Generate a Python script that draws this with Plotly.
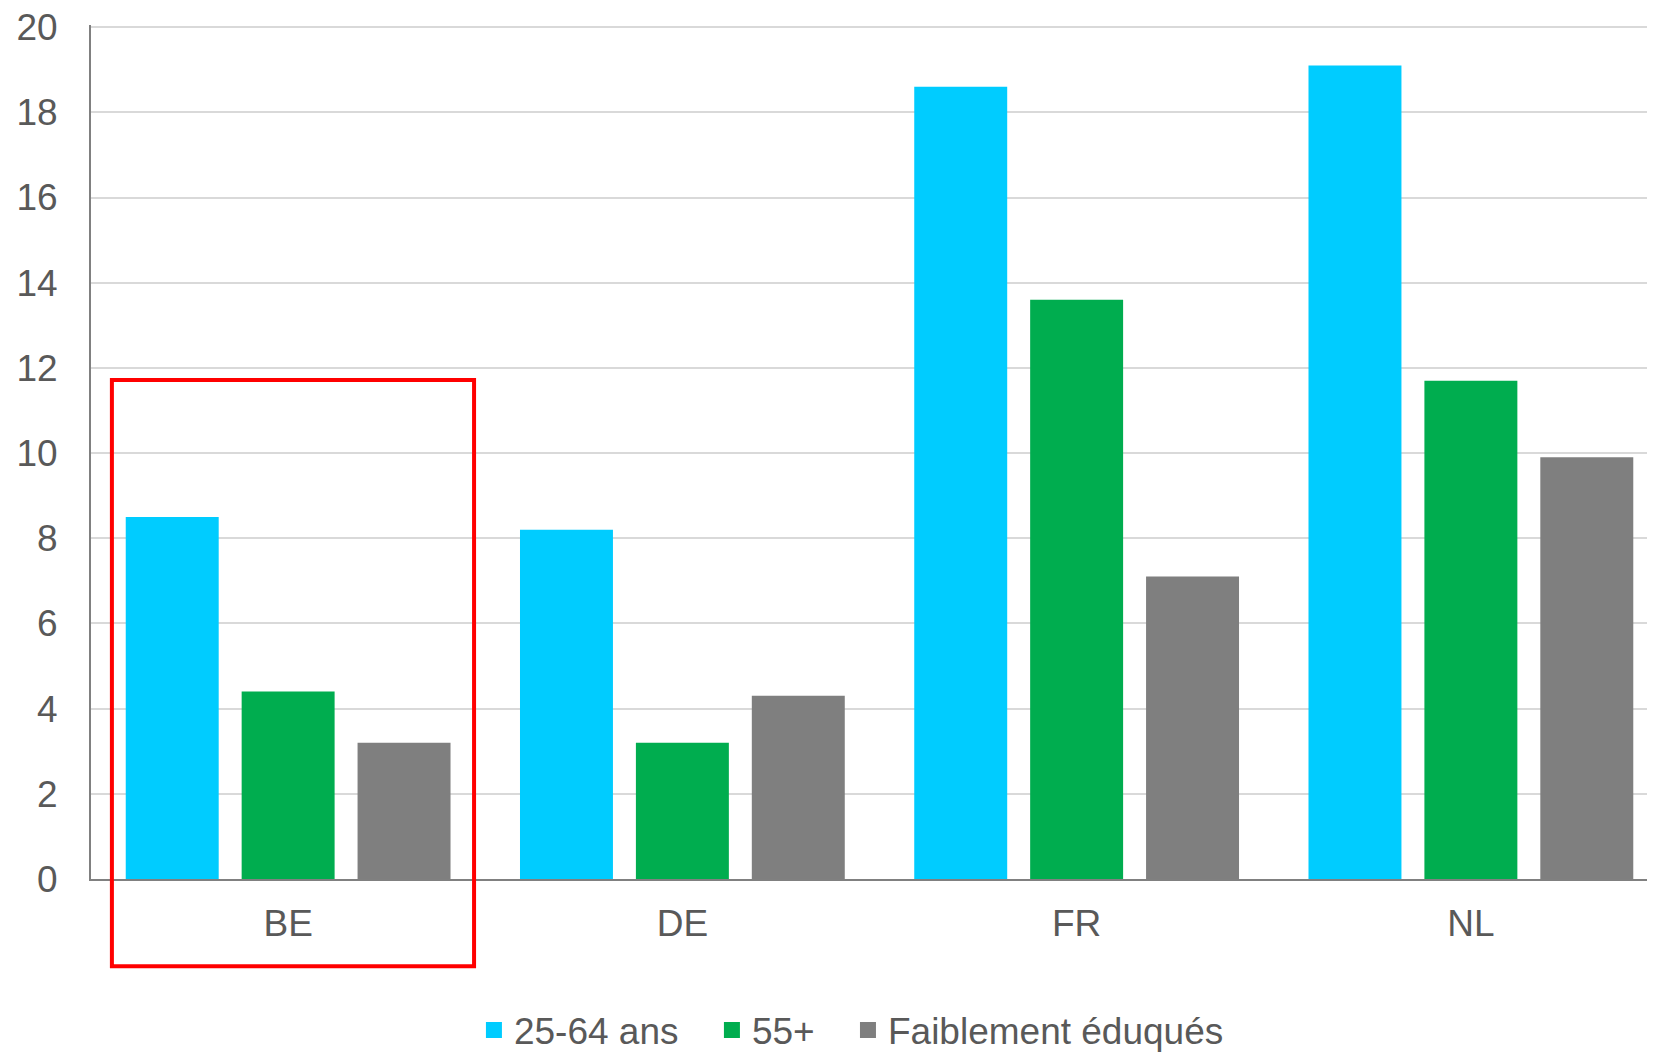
import plotly.graph_objects as go

categories = ["BE", "DE", "FR", "NL"]
series_names = ["25-64 ans", "55+", "Faiblement éduqués"]
values_25_64 = [8.5, 8.2, 18.6, 19.1]
values_55 = [4.4, 3.2, 13.6, 11.7]
values_low_edu = [3.2, 4.3, 7.1, 9.9]
y_ticks = [0, 2, 4, 6, 8, 10, 12, 14, 16, 18, 20]
colors = ["#00CCFF", "#00AD4F", "#7F7F7F"]

FONT = "Liberation Sans, Arial, sans-serif"
TXT = "#595959"

fig = go.Figure()
for name, vals, col in zip(series_names, [values_25_64, values_55, values_low_edu], colors):
    fig.add_trace(go.Bar(x=categories, y=vals, name=name, showlegend=False,
                         marker=dict(color=col, line=dict(width=0))))

# one legend per entry so that each can be placed like the original
legend_ids = ["legend", "legend2", "legend3"]
legend_x = [0.2829, 0.4274, 0.5100]
for name, col, lid in zip(series_names, colors, legend_ids):
    fig.add_trace(go.Scatter(x=[None], y=[None], mode="markers", name=name, legend=lid,
                             marker=dict(symbol="square", size=16, color=col)))

legend_common = dict(orientation="h", xref="container", yref="container", xanchor="left",
                     y=0.0206, yanchor="middle", font=dict(family=FONT, size=37, color=TXT),
                     itemwidth=30, bgcolor="rgba(0,0,0,0)", borderwidth=0)

# page has an 8px body margin; compensate so the figure fills the window
W, H = 1647, 1044
fig.update_layout(
    width=W, height=H,
    margin=dict(l=83, r=0, t=17, b=173),
    paper_bgcolor="white", plot_bgcolor="white",
    barmode="group", bargap=0.118, bargroupgap=0.198,
    font=dict(family=FONT, color=TXT, size=36),
    showlegend=True,
    legend=dict(x=legend_x[0], **legend_common),
    legend2=dict(x=legend_x[1], **legend_common),
    legend3=dict(x=legend_x[2], **legend_common),
    xaxis=dict(range=[-0.5, 3.467], showline=True, linecolor="#808080", linewidth=2,
               tickfont=dict(size=37), ticklabelstandoff=11, showgrid=False, automargin=False),
    # small headroom so the gridline at 20 is not dropped at the axis end
    yaxis=dict(range=[0, 20.05], tickvals=y_ticks, showline=True, linecolor="#808080", linewidth=2,
               gridcolor="#D9D9D9", gridwidth=2, tickfont=dict(size=37), ticklabelstandoff=24,
               zeroline=False, automargin=False, ticklabeloverflow="allow"),
)

fig.add_shape(type="rect", xref="x", yref="paper", x0=-0.447, x1=0.4716, y0=-0.1023, y1=0.5842,
              line=dict(color="#FF0000", width=4), fillcolor="rgba(0,0,0,0)", layer="above")

fig.write_html("out.html")
